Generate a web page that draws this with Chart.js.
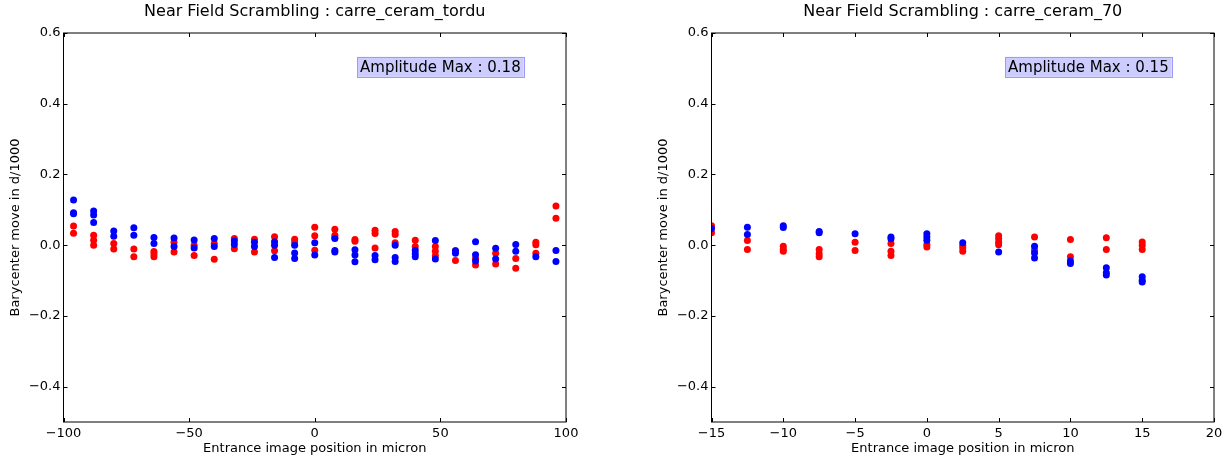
<!DOCTYPE html>
<html lang="en">
<head>
<meta charset="utf-8">
<title>Near Field Scrambling</title>
<script src="https://cdn.jsdelivr.net/npm/chart.js"></script>
<style>
  html, body { margin: 0; padding: 0; background: #fff; }
  #wrap { position: relative; width: 1232px; height: 461px; overflow: hidden; }
  canvas { position: absolute; top: 0; }
</style>
</head>
<body>
<div id="wrap">
  <canvas id="tordu" width="616" height="461" style="left:0"></canvas>
  <canvas id="c70" width="616" height="461" style="left:616px"></canvas>
</div>
<script>
// carre_ceram_tordu : positions (micron) and barycenter moves at each position
const torduPositions = [-96, -88, -80, -72, -64, -56, -48, -40, -32, -24, -16, -8, 0, 8, 16, 24, 32, 40, 48, 56, 64, 72, 80, 88, 96];
const torduBlue = [
  [0.128, 0.092, 0.089], [0.097, 0.085, 0.064], [0.040, 0.025], [0.049, 0.028], [0.022, 0.005],
  [0.020, -0.004], [0.015, -0.008], [0.019, -0.004], [0.012, 0.002], [0.008, -0.004],
  [0.010, 0.000, -0.035], [0.000, -0.022, -0.038], [0.007, -0.028], [0.019, -0.015, -0.019], [-0.013, -0.028, -0.047],
  [-0.029, -0.041], [0.000, -0.035, -0.046], [-0.014, -0.024, -0.033], [0.013, -0.039], [-0.016, -0.023],
  [0.010, -0.027, -0.045], [-0.009, -0.039], [0.002, -0.017], [-0.033], [-0.015, -0.046]
];
const torduRed = [
  [0.054, 0.034], [0.028, 0.014, 0.000], [0.005, -0.011], [-0.011, -0.033], [-0.018, -0.025, -0.033],
  [0.008, -0.019], [0.000, -0.029], [0.005, -0.040], [0.019, -0.010], [0.017, -0.019],
  [0.024, -0.016], [0.017, 0.009], [0.051, 0.027, -0.014], [0.045, 0.028, 0.021], [0.016, 0.011],
  [0.042, 0.033, -0.008], [0.039, 0.030, 0.007], [0.014, -0.004], [-0.004, -0.017, -0.030], [-0.016, -0.043],
  [-0.038, -0.056], [-0.023, -0.053], [-0.038, -0.065], [0.008, 0.001, -0.023], [0.111, 0.076]
];

// carre_ceram_70
const c70Positions = [-15, -12.5, -10, -7.5, -5, -2.5, 0, 2.5, 5, 7.5, 10, 12.5, 15];
const c70Blue = [
  [0.047], [0.051, 0.030], [0.055, 0.050], [0.039, 0.035], [0.032], [0.023, 0.018],
  [0.032, 0.023, 0.014], [0.007], [-0.019], [-0.003, -0.022, -0.036], [-0.045, -0.052],
  [-0.064, -0.078, -0.084], [-0.089, -0.099, -0.104]
];
const c70Red = [
  [0.055, 0.035], [0.013, -0.012], [-0.003, -0.012, -0.017], [-0.012, -0.024, -0.033], [0.008, -0.015],
  [0.005, -0.017, -0.029], [0.002, -0.005], [-0.001, -0.008, -0.017], [0.027, 0.018, 0.008, 0.001],
  [0.023, -0.014], [0.016, -0.033], [0.021, -0.012], [0.009, 0.000, -0.012]
];

const yTicks = [-0.4, -0.2, 0.0, 0.2, 0.4, 0.6];
const torduXTicks = [-100, -50, 0, 50, 100];
const c70XTicks = [-15, -10, -5, 0, 5, 10, 15, 20];

const FONT = "'DejaVu Sans', sans-serif";

function toPoints(positions, values) {
  const pts = [];
  positions.forEach((p, i) => values[i].forEach(v => pts.push({x: p, y: v})));
  return pts;
}

function fmt(v, digits) {
  return Number(v).toFixed(digits).replace('-', '\u2212');
}

// matplotlib-like frame, inward ticks, title and the amplitude box
const framePlugin = {
  id: 'frame',
  afterDraw(chart, args, o) {
    const {ctx, chartArea: a, scales: {x, y}} = chart;
    ctx.save();
    ctx.strokeStyle = '#000';
    ctx.lineWidth = 1;
    ctx.strokeRect(a.left, a.top, a.right - a.left, a.bottom - a.top);
    ctx.beginPath();
    x.ticks.forEach(t => {
      const px = Math.round(x.getPixelForValue(t.value)) + 0.5;
      ctx.moveTo(px, a.bottom); ctx.lineTo(px, a.bottom - 4);
      ctx.moveTo(px, a.top); ctx.lineTo(px, a.top + 4);
    });
    y.ticks.forEach(t => {
      const py = Math.round(y.getPixelForValue(t.value)) + 0.5;
      ctx.moveTo(a.left, py); ctx.lineTo(a.left + 4, py);
      ctx.moveTo(a.right, py); ctx.lineTo(a.right - 4, py);
    });
    ctx.stroke();

    // title centred over the axes
    ctx.fillStyle = '#000';
    ctx.font = '16px ' + FONT;
    ctx.textAlign = 'center';
    ctx.textBaseline = 'middle';
    ctx.fillText(o.title, (a.left + a.right) / 2, 12);

    // amplitude box
    ctx.font = '15px ' + FONT;
    const w = ctx.measureText(o.note).width + 6;
    const h = 20;
    const cx = a.left + (a.right - a.left) * 0.75;
    const cy = a.top + (a.bottom - a.top) * 0.087;
    ctx.fillStyle = 'rgba(204,204,255,1)';
    ctx.strokeStyle = '#9a9aff';
    ctx.fillRect(cx - w / 2, cy - h / 2, w, h);
    ctx.strokeRect(Math.round(cx - w / 2) + 0.5, Math.round(cy - h / 2) + 0.5, Math.round(w), h);
    ctx.fillStyle = '#000';
    ctx.fillText(o.note, cx, cy + 1);
    ctx.restore();
  }
};

function makeChart(id, positions, blue, red, xMin, xMax, xTicks, title, note, padLeft, padRight) {
  new Chart(document.getElementById(id), {
    type: 'scatter',
    data: {
      datasets: [
        { data: toPoints(positions, blue), backgroundColor: '#0000ff', borderWidth: 0, pointRadius: 3.5, clip: 0 },
        { data: toPoints(positions, red), backgroundColor: '#ff0000', borderWidth: 0, pointRadius: 3.5, clip: 0 }
      ]
    },
    options: {
      responsive: false,
      animation: false,
      events: [],
      layout: { padding: { left: padLeft, right: padRight, top: 33, bottom: 5 } },
      plugins: {
        legend: { display: false },
        tooltip: { enabled: false },
        frame: { title: title, note: note }
      },
      scales: {
        x: {
          type: 'linear', min: xMin, max: xMax,
          grid: { display: false, drawTicks: false },
          border: { display: false },
          afterBuildTicks: s => { s.ticks = xTicks.map(v => ({value: v})); },
          afterFit: s => { s.height = 34; },
          ticks: { color: '#000', padding: 4, maxRotation: 0, autoSkip: false,
                   font: { family: FONT, size: 13 }, callback: v => fmt(v, 0) },
          title: { display: true, text: 'Entrance image position in micron', color: '#000',
                   padding: 0, font: { family: FONT, size: 13 } }
        },
        y: {
          type: 'linear', min: -0.5, max: 0.6,
          grid: { display: false, drawTicks: false },
          border: { display: false },
          afterBuildTicks: s => { s.ticks = yTicks.map(v => ({value: v})); },
          afterFit: s => { s.width = 55.5; },
          ticks: { color: '#000', padding: 3, autoSkip: false,
                   font: { family: FONT, size: 13 }, callback: v => fmt(v, 1) },
          title: { display: true, text: 'Barycenter move in d/1000', color: '#000',
                   padding: 0, font: { family: FONT, size: 13 } }
        }
      }
    },
    plugins: [framePlugin]
  });
}

makeChart('tordu', torduPositions, torduBlue, torduRed, -100, 100, torduXTicks,
  'Near Field Scrambling : carre_ceram_tordu', 'Amplitude Max : 0.18', 8, 50);
makeChart('c70', c70Positions, c70Blue, c70Red, -15, 20, c70XTicks,
  'Near Field Scrambling : carre_ceram_70', 'Amplitude Max : 0.15', 40, 18);
</script>
</body>
</html>
